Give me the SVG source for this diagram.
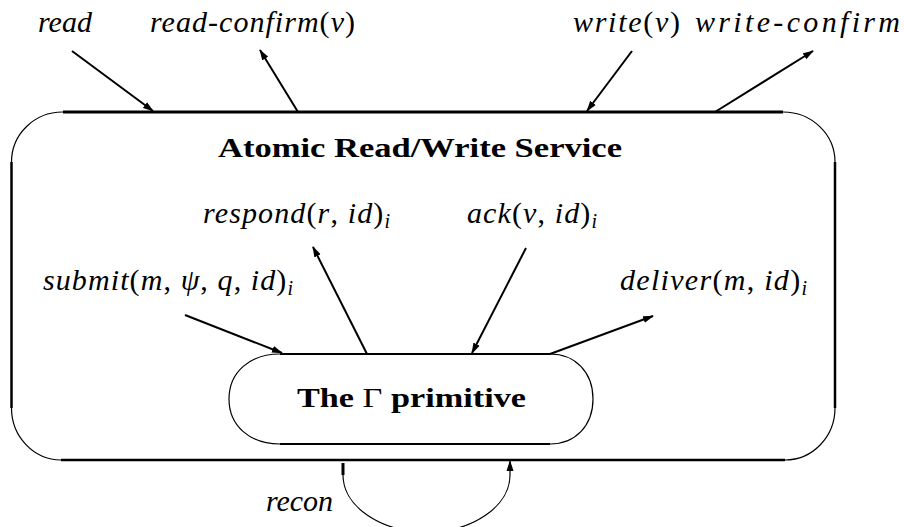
<svg xmlns="http://www.w3.org/2000/svg" width="904" height="527" viewBox="0 0 904 527">
<style>
  .lbl { font-family: 'Liberation Serif', serif; font-size: 30px; font-style: italic; fill: #000; }
  .up { font-style: normal; }
  .sub { font-size: 20px; }
  .ttl { font-family: 'Liberation Serif', serif; font-size: 27px; font-weight: bold; fill: #000; }
  .thick { fill: none; stroke: #000; stroke-width: 3; }
  .side { fill: none; stroke: #000; stroke-width: 2.5; }
  .thin { fill: none; stroke: #000; stroke-width: 1.2; }
  .arr { fill: none; stroke: #000; stroke-width: 2; marker-end: url(#ah); }
</style>
<defs>
  <marker id="ah" markerUnits="userSpaceOnUse" markerWidth="11" markerHeight="8" refX="10" refY="4" orient="auto">
    <path d="M0,0.5 L11,4 L0,7.5 z" fill="#000"/>
  </marker>
</defs>
<rect width="904" height="527" fill="#fff"/>

<g id="service">
  <path class="thick" d="M63,112 H783"/>
  <path class="thin" d="M783,112 A52,50 0 0 1 835,162"/>
  <path class="side" d="M835,162 V408"/>
  <path class="thin" d="M835,408 A50,52 0 0 1 785,460"/>
  <path class="side" d="M785,460 H61"/>
  <path class="thin" d="M61,460 A50,52 0 0 1 11.5,408"/>
  <path class="side" d="M11.5,408 V162"/>
  <path class="thin" d="M11.5,162 A51,50 0 0 1 63,112"/>
  <text class="ttl" font-family="'Liberation Serif'" x="218" y="157" textLength="404" lengthAdjust="spacingAndGlyphs">Atomic Read/Write Service</text>
</g>

<g id="gamma">
  <path class="side" style="stroke-width:2" d="M280,354 H550"/>
  <path class="side" style="stroke-width:2" d="M550,444 H280"/>
  <path class="thin" d="M550,354 C575,354 593,372 593,399 C593,426 575,444 550,444"/>
  <path class="thin" d="M280,444 C250,444 229,426 229,399 C229,372 250,354 280,354"/>
  <text class="ttl" font-family="'Liberation Serif'" x="297" y="407" textLength="229" lengthAdjust="spacingAndGlyphs">The <tspan font-weight="normal">Γ</tspan> primitive</text>
</g>

<g id="labels">
  <text class="lbl" font-family="'Liberation Serif'" x="38" y="32" textLength="54">read</text>
  <text class="lbl" font-family="'Liberation Serif'" x="150" y="32" textLength="205">read-confirm<tspan class="up">(</tspan>v<tspan class="up">)</tspan></text>
  <text class="lbl" font-family="'Liberation Serif'" x="573" y="32" textLength="107">write<tspan class="up">(</tspan>v<tspan class="up">)</tspan></text>
  <text class="lbl" font-family="'Liberation Serif'" x="695" y="32" textLength="205">write-confirm</text>
  <text class="lbl" font-family="'Liberation Serif'" x="203" y="223" textLength="187">respond<tspan class="up">(</tspan>r<tspan class="up">, </tspan>id<tspan class="up">)</tspan><tspan class="sub" dy="5">i</tspan></text>
  <text class="lbl" font-family="'Liberation Serif'" x="467" y="223" textLength="130">ack<tspan class="up">(</tspan>v<tspan class="up">, </tspan>id<tspan class="up">)</tspan><tspan class="sub" dy="5">i</tspan></text>
  <text class="lbl" font-family="'Liberation Serif'" x="43" y="290" textLength="250">submit<tspan class="up">(</tspan>m<tspan class="up">, </tspan>ψ<tspan class="up">, </tspan>q<tspan class="up">, </tspan>id<tspan class="up">)</tspan><tspan class="sub" dy="5">i</tspan></text>
  <text class="lbl" font-family="'Liberation Serif'" x="620" y="290" textLength="187">deliver<tspan class="up">(</tspan>m<tspan class="up">, </tspan>id<tspan class="up">)</tspan><tspan class="sub" dy="5">i</tspan></text>
  <text class="lbl" font-family="'Liberation Serif'" x="266" y="511" textLength="67">recon</text>
</g>

<g id="connectors">
  <line class="arr" x1="72" y1="51" x2="153" y2="111"/>
  <line class="arr" x1="298" y1="112" x2="260" y2="50"/>
  <line class="arr" x1="632" y1="51" x2="587" y2="111"/>
  <line class="arr" x1="715" y1="112" x2="813" y2="51"/>
  <line class="arr" x1="367" y1="354" x2="313" y2="247"/>
  <line class="arr" x1="526" y1="248" x2="472" y2="353"/>
  <line class="arr" x1="185" y1="315" x2="282" y2="353"/>
  <line class="arr" x1="550" y1="354" x2="653" y2="316"/>
  <path class="side" style="stroke-width:3" d="M343,463 V475"/>
  <path class="thin" style="marker-end:url(#ah)" d="M343,475 A83.5,57 0 0 0 510,475 V461"/>
</g>
</svg>
